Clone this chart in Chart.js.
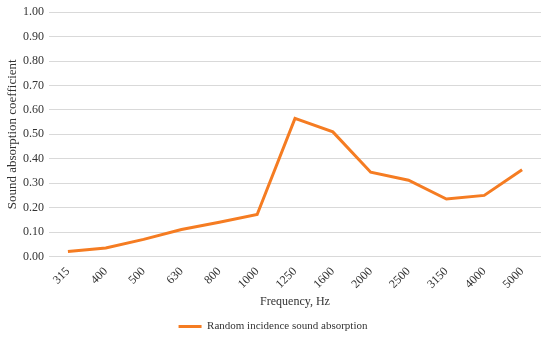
<!DOCTYPE html>
<html>
<head>
<meta charset="utf-8">
<script src="https://cdn.jsdelivr.net/npm/chart.js@4"></script>
<style>
  body { margin: 0; background: #fff; }
  #wrap { width: 550px; height: 338px; }
</style>
</head>
<body>
<div id="wrap"><canvas id="absChart"></canvas></div>
<script>
// frequency bands and measured values
const frequencies = ['315', '400', '500', '630', '800', '1000', '1250', '1600', '2000', '2500', '3150', '4000', '5000'];
const absorption = [0.02, 0.035, 0.07, 0.11, 0.14, 0.172, 0.565, 0.51, 0.345, 0.312, 0.235, 0.25, 0.355];
const yTicks = [0, 0.1, 0.2, 0.3, 0.4, 0.5, 0.6, 0.7, 0.8, 0.9, 1.0];

Chart.defaults.font.family = '"Liberation Serif", "Times New Roman", serif';
Chart.defaults.color = '#333';

const ctx = document.getElementById('absChart').getContext('2d');
const absChart = new Chart(ctx, {
  type: 'line',
  data: {
    labels: frequencies,
    datasets: [{
      label: 'Random incidence sound absorption',
      data: absorption,
      borderColor: '#f57c22',
      backgroundColor: '#f57c22',
      borderWidth: 3,
      pointRadius: 0,
      tension: 0
    }]
  },
  options: {
    responsive: true,
    maintainAspectRatio: false,
    animation: false,
    layout: { padding: { left: 5, right: 9, top: 0, bottom: -4 } },
    plugins: {
      legend: {
        position: 'bottom',
        labels: {
          font: { size: 11 },
          boxWidth: 23,
          boxHeight: 0,
          padding: 2
        }
      },
      tooltip: { enabled: false }
    },
    scales: {
      x: {
        offset: true,
        grid: { display: false },
        border: { display: false },
        ticks: { font: { size: 12 }, maxRotation: 45, minRotation: 45, padding: 0 },
        title: { display: true, text: 'Frequency, Hz', font: { size: 12 }, padding: { top: 3, bottom: 10 } }
      },
      y: {
        min: 0,
        max: 1,
        afterBuildTicks: axis => { axis.ticks = yTicks.map(v => ({ value: v })); },
        grid: { color: '#d9d9d9', drawTicks: false },
        border: { display: false },
        ticks: {
          font: { size: 12 },
          padding: 5,
          callback: v => v.toFixed(2)
        },
        title: { display: true, text: 'Sound absorption coefficient', font: { size: 13 }, padding: 0 },
        afterFit: axis => { axis.width = 44; }
      }
    }
  }
});
</script>
</body>
</html>
